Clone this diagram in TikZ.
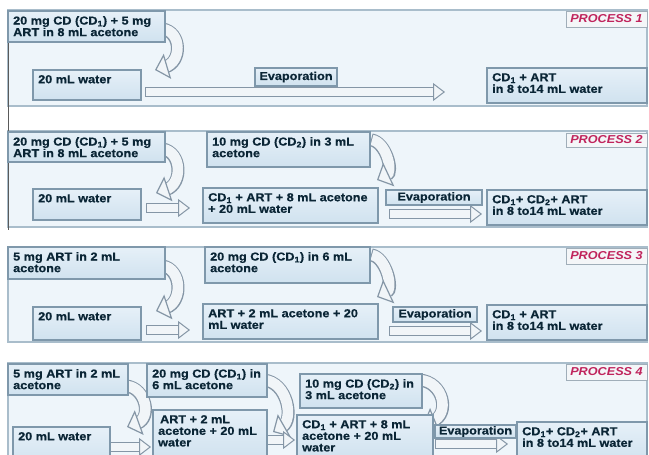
\documentclass[tikz,border=0pt]{standalone}
\usepackage{fontspec}
\setmainfont{Liberation Sans}[FakeStretch=1.1, BoldFeatures={FakeBold=0.6}]
\usetikzlibrary{arrows.meta,calc}
\definecolor{panelfill}{HTML}{EEF5FA}
\definecolor{panelline}{HTML}{A9BDCB}
\definecolor{boxtop}{HTML}{E6F0F8}
\definecolor{boxbot}{HTML}{D0E2EF}
\definecolor{boxline}{HTML}{7F98AB}
\definecolor{textcol}{HTML}{0A2535}
\definecolor{arrowfill}{HTML}{F1F5F8}
\definecolor{arrowline}{HTML}{8596A6}
\definecolor{proccol}{HTML}{C0245C}
\definecolor{procfill}{HTML}{F4F6F8}
\definecolor{procline}{HTML}{A0AEB9}
\definecolor{leftline}{HTML}{5A5A5A}
\pgfdeclarelayer{panels}
\pgfdeclarelayer{arrows}
\pgfsetlayers{panels,arrows,main}
\tikzset{
  boxst/.style={draw=boxline, line width=1.1pt, top color=boxtop, bottom color=boxbot,
    anchor=north west, inner sep=0pt, outer sep=0pt},
  txtst/.style={anchor=north west, inner sep=0pt, align=left, text=textcol,
    font=\fontsize{11.5}{11.6}\selectfont\bfseries},
  procst/.style={draw=procline, fill=procfill, line width=1pt, anchor=north west,
    inner sep=0pt, outer sep=0pt},
  proctxt/.style={inner sep=0pt, text=proccol, font=\fontsize{11.5}{12}\selectfont\bfseries\itshape},
  panelst/.style={draw=panelline, fill=panelfill, line width=1.2pt},
  caout/.style={line width=13pt, color=arrowline, shorten >=11pt, shorten <=-1pt},
  cain/.style={line width=10.6pt, color=arrowfill, shorten >=10pt},
  catip/.style={line width=0.4pt, color=arrowfill,
    -{Triangle[width=26pt,length=13pt,fill=arrowfill,color=arrowline,line width=1.2pt]}},
  saout/.style={line width=10pt, color=arrowline, shorten >=10pt, shorten <=-1pt},
  sain/.style={line width=8pt, color=arrowfill, shorten >=9pt},
  satip/.style={line width=0.4pt, color=arrowfill,
    -{Triangle[width=18pt,length=12pt,fill=arrowfill,color=arrowline,line width=1pt]}},
}
% name, x, y, w, h, text
\newcommand\mybox[6]{%
  \node[boxst, minimum width=#4pt, minimum height=#5pt] (#1) at (#2,#3) {};
  \node[txtst] (#1t) at ($(#1.north west)+(5,5)$) {#6};}
\newcommand\evbox[5]{%
  \node[boxst, minimum width=#4pt, minimum height=#5pt] (#1) at (#2,#3) {};
  \node[txtst, anchor=center] (#1t) at (#1.center) {Evaporation};}
% start, c1, c2, end
\newcommand\curvarrow[4]{%
  \begin{pgfonlayer}{arrows}
  \draw[caout] #1 .. controls #2 and #3 .. #4;
  \draw[cain] #1 .. controls #2 and #3 .. #4;
  \draw[catip] #1 .. controls #2 and #3 .. #4;
  \end{pgfonlayer}}
\newcommand\strarrow[2]{%
  \begin{pgfonlayer}{arrows}
  \draw[saout] #1 -- #2;
  \draw[sain] #1 -- #2;
  \draw[satip] #1 -- #2;
  \end{pgfonlayer}}
\begin{document}
\begin{tikzpicture}[x=1pt,y=-1pt]
\useasboundingbox (0,0) rectangle (649,455);
\clip (0,0) rectangle (649,455);
\begin{pgfonlayer}{panels}
  \fill[white] (0,0) rectangle (649,455);
  \draw[panelst] (8,10) rectangle (647,106);
  \draw[panelst] (8,131) rectangle (647,227);
  \draw[panelst] (8,247) rectangle (647,342);
  \draw[panelst] (8,363) rectangle (647,470);
  \draw[leftline, line width=1pt] (8,10) -- (8,230);
\end{pgfonlayer}

% ---------------- PROCESS 1
\mybox{p1a}{8}{11}{157}{31}{20 mg CD (CD\textsubscript{1}) + 5 mg\\ART in 8 mL acetone}
\mybox{p1w}{33}{70}{108}{30}{20 mL water}
\evbox{p1e}{255}{68}{82}{18}
\mybox{p1r}{487}{68}{160}{35}{CD\textsubscript{1} + ART\\in 8 to14 mL water}
\node[procst, minimum width=81pt, minimum height=16pt] (p1p) at (566,11) {};
\node[proctxt] (p1pt) at (p1p.center) {PROCESS 1};
\curvarrow{($(p1a.south east)+(-2,-13)$)}{(182,32)}{(182,62)}{($(p1w.north east)+(14,0)$)}
\strarrow{($(p1w.east)+(5,7)$)}{($(p1r.west)+(-42,6.5)$)}

% ---------------- PROCESS 2
\mybox{p2a}{8}{132}{157}{30}{20 mg CD (CD\textsubscript{1}) + 5 mg\\ART in 8 mL acetone}
\mybox{p2b}{207}{132}{163}{35}{10 mg CD (CD\textsubscript{2}) in 3 mL\\acetone}
\mybox{p2w}{33}{189}{108}{31}{20 mL water}
\mybox{p2m}{203}{188}{175}{35}{CD\textsubscript{1} + ART + 8 mL acetone\\+ 20 mL water}
\evbox{p2e}{386}{190}{96}{15}
\mybox{p2r}{487}{190}{160}{35}{CD\textsubscript{1}+ CD\textsubscript{2}+ ART\\in 8 to14 mL water}
\node[procst, minimum width=81pt, minimum height=14pt] (p2p) at (566,133) {};
\node[proctxt] (p2pt) at (p2p.center) {PROCESS 2};
\curvarrow{($(p2a.south east)+(-2,-13)$)}{(182,152)}{(183,184)}{($(p2w.north east)+(15,4)$)}
\strarrow{($(p2w.east)+(6,3.5)$)}{($(p2m.west)+(-13,2.5)$)}
\curvarrow{($(p2b.north east)+(2,8)$)}{(386,142)}{(394,172)}{($(p2m.north east)+(-1,-8)$)}
\strarrow{($(p2e.south west)+(4,9)$)}{($(p2r.west)+(-5,6.5)$)}

% ---------------- PROCESS 3
\mybox{p3a}{8}{247}{157}{32}{5 mg ART in 2 mL\\acetone}
\mybox{p3b}{205}{247}{165}{36}{20 mg CD (CD\textsubscript{1}) in 6 mL\\acetone}
\mybox{p3w}{33}{307}{108}{33}{20 mL water}
\mybox{p3m}{203}{304}{175}{35}{ART + 2 mL acetone + 20\\mL water}
\evbox{p3e}{393}{307}{84}{15}
\mybox{p3r}{487}{305}{160}{35}{CD\textsubscript{1} + ART\\in 8 to14 mL water}
\node[procst, minimum width=81pt, minimum height=16pt] (p3p) at (566,248) {};
\node[proctxt] (p3pt) at (p3p.center) {PROCESS 3};
\curvarrow{($(p3a.south east)+(-2,-13)$)}{(182,269)}{(183,302)}{($(p3w.north east)+(15,4)$)}
\strarrow{($(p3w.east)+(6,6.5)$)}{($(p3m.west)+(-13,8.5)$)}
\curvarrow{($(p3b.north east)+(2,8)$)}{(386,257)}{(394,289)}{($(p3m.north east)+(-1,-7)$)}
\strarrow{($(p3e.south west)+(-3,9)$)}{($(p3r.west)+(-5,8.5)$)}

% ---------------- PROCESS 4
\mybox{p4a}{8}{364}{120}{31}{5 mg ART in 2 mL\\acetone}
\mybox{p4b}{147}{364}{120}{33}{20 mg CD (CD\textsubscript{1}) in\\6 mL acetone}
\mybox{p4w}{13}{427}{97}{40}{20 mL water}
\mybox{p4m}{153}{410}{114}{50}{\,ART + 2 mL\\acetone + 20 mL\\water}
\mybox{p4c}{300}{374}{122}{34}{10 mg CD (CD\textsubscript{2}) in\\3 mL acetone}
\mybox{p4n}{297}{415}{136}{45}{CD\textsubscript{1} + ART + 8 mL\\acetone + 20 mL\\water}
\evbox{p4e}{435}{425}{81}{13}
\mybox{p4r}{517}{422}{130}{40}{CD\textsubscript{1}+ CD\textsubscript{2}+ ART\\in 8 to14 mL water}
\node[procst, minimum width=81pt, minimum height=16pt] (p4p) at (566,364) {};
\node[proctxt] (p4pt) at (p4p.center) {PROCESS 4};
\curvarrow{($(p4a.north east)+(-1,22)$)}{(146,388)}{(152,418)}{($(p4m.north west)+(-26,17)$)}
\strarrow{($(p4w.east)+(1,0)$)}{($(p4m.west)+(-2,12)$)}
\curvarrow{($(p4b.north east)+(-3,16)$)}{(288,382)}{(294,420)}{($(p4m.north east)+(6,22)$)}
\strarrow{($(p4m.east)+(1,5)$)}{($(p4n.west)+(-2,2.5)$)}
\curvarrow{($(p4c.north east)+(-2,6)$)}{(444,382)}{(450,414)}{($(p4n.north east)+(-10,10)$)}
\strarrow{($(p4e.south west)+(1,6)$)}{($(p4r.west)+(-9,2)$)}
\end{tikzpicture}
\end{document}
